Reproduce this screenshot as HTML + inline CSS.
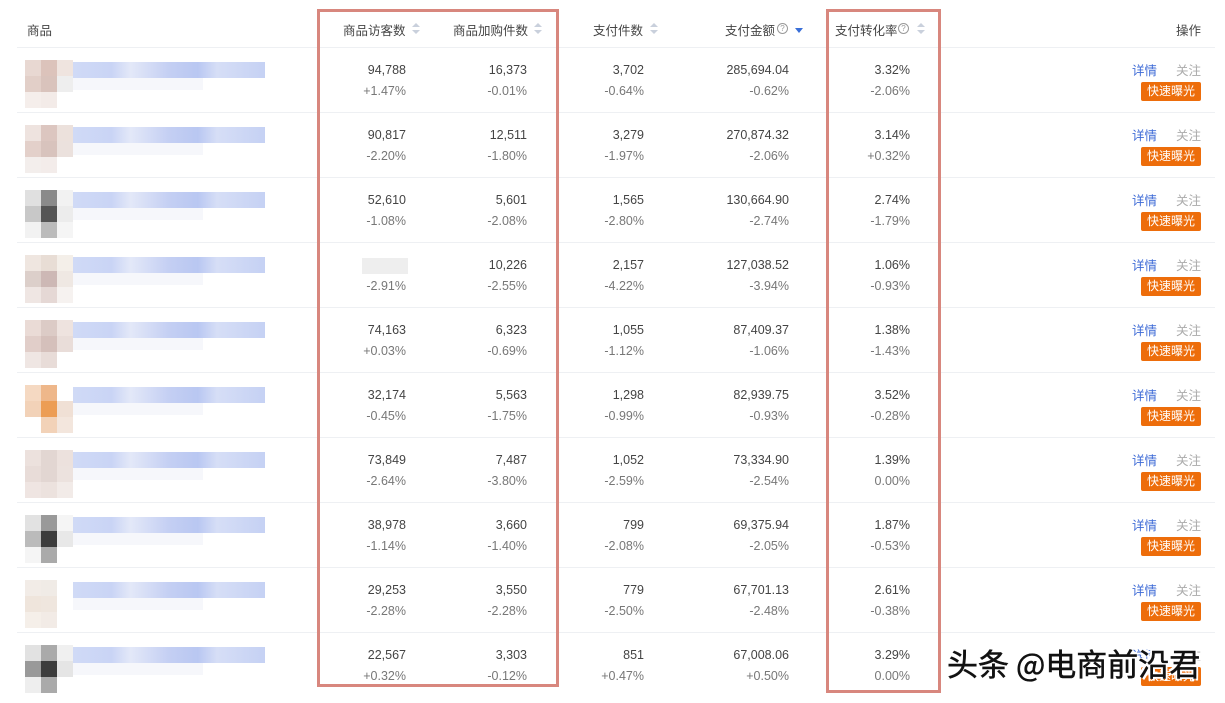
<!DOCTYPE html>
<html><head><meta charset="utf-8"><style>
*{margin:0;padding:0;box-sizing:border-box}
body{width:1225px;height:703px;background:#fff;position:relative;overflow:hidden;font-family:"Liberation Sans","Noto Sans CJK SC",sans-serif;font-size:12.5px;color:#444}
.a{position:absolute;white-space:nowrap}
.r{text-align:right}
.sep{position:absolute;left:17px;width:1198px;height:1px;background:#eef0f3}
.v{color:#444}.p{color:#777}
.box{position:absolute;border:3px solid #d8877e}
.btn{position:absolute;background:#ed6d0b;color:#fff;font-size:12px;width:60px;height:19px;line-height:19px;text-align:center;border-radius:2px}
.sort{position:absolute;width:8px;height:12px}
.sort:before{content:"";position:absolute;left:0;top:0;border:4px solid transparent;border-bottom:4px solid #c9d0dc;border-top:0}
.sort:after{content:"";position:absolute;left:0;top:7px;border:4px solid transparent;border-top:4px solid #c9d0dc;border-bottom:0}
.q{position:absolute;width:11px;height:11px;border:1px solid #999;border-radius:50%;font-size:8px;line-height:9px;text-align:center;color:#999}
.cell{position:absolute;width:16px;height:16px}
.wm{position:absolute;left:947px;top:640px;font-size:31px;color:#111;font-family:"Noto Sans CJK SC",sans-serif;-webkit-text-stroke:0.5px #111;text-shadow:2px 2px 0 #fff,-2px -2px 0 #fff,2px -2px 0 #fff,-2px 2px 0 #fff}
</style></head><body>
<div class="a" style="left:27px;top:20px">商品</div>
<div class="a" style="left:343px;top:20px">商品访客数</div><div class="sort" style="left:412px;top:23px"></div>
<div class="a" style="left:453px;top:20px">商品加购件数</div><div class="sort" style="left:534px;top:23px"></div>
<div class="a" style="left:593px;top:20px">支付件数</div><div class="sort" style="left:650px;top:23px"></div>
<div class="a" style="left:725px;top:20px">支付金额</div><div class="q" style="left:777px;top:23px">?</div>
<div class="a" style="left:795px;top:28px;border:4px solid transparent;border-top:5px solid #3a6fd8;border-bottom:0"></div>
<div class="a" style="left:835px;top:20px">支付转化率</div><div class="q" style="left:898px;top:23px">?</div><div class="sort" style="left:917px;top:23px"></div>
<div class="a" style="left:1176px;top:20px">操作</div>
<div id="rows"></div>
<div class="box" style="left:317px;top:9px;width:242px;height:678px"></div>
<div class="box" style="left:826px;top:9px;width:115px;height:684px"></div>
<div class="wm">头条 @电商前沿君</div>
<script>
var d=[["94,788","+1.47%","16,373","-0.01%","3,702","-0.64%","285,694.04","-0.62%","3.32%","-2.06%"],
["90,817","-2.20%","12,511","-1.80%","3,279","-1.97%","270,874.32","-2.06%","3.14%","+0.32%"],
["52,610","-1.08%","5,601","-2.08%","1,565","-2.80%","130,664.90","-2.74%","2.74%","-1.79%"],
["","-2.91%","10,226","-2.55%","2,157","-4.22%","127,038.52","-3.94%","1.06%","-0.93%"],
["74,163","+0.03%","6,323","-0.69%","1,055","-1.12%","87,409.37","-1.06%","1.38%","-1.43%"],
["32,174","-0.45%","5,563","-1.75%","1,298","-0.99%","82,939.75","-0.93%","3.52%","-0.28%"],
["73,849","-2.64%","7,487","-3.80%","1,052","-2.59%","73,334.90","-2.54%","1.39%","0.00%"],
["38,978","-1.14%","3,660","-1.40%","799","-2.08%","69,375.94","-2.05%","1.87%","-0.53%"],
["29,253","-2.28%","3,550","-2.28%","779","-2.50%","67,701.13","-2.48%","2.61%","-0.38%"],
["22,567","+0.32%","3,303","-0.12%","851","+0.47%","67,008.06","+0.50%","3.29%","0.00%"]];
var th=[["#e8d8d2","#dcc3bb","#efe4df","#e2cfc8","#d9c3bc","#eee","#f5eeeb","#f3ebe8","#fff"],
["#eee3df","#dcc6c0","#ece1dc","#e3d0ca","#d8c3bd","#ebe1dd","#f3eeec","#f3ecea","#fff"],
["#e0e0e0","#8a8a8a","#f2f2f2","#c8c8c8","#555","#ececec","#f2f2f2","#bbb","#f5f5f5"],
["#efe6e0","#e8ddd5","#f4efe9","#dccfca","#cdb8b5","#efe8e3","#efe6e3","#e5d8d5","#f6f2f0"],
["#eadbd6","#dccbc6","#eee3df","#e1cec9","#d5c0bb","#e9ddd9","#efe6e3","#e8dcd8","#fff"],
["#f5d9c2","#eeb78a","#fff","#f2d2b8","#ec9d55","#f0e0d5","#fff","#f2d2b8","#f3e6dd"],
["#ece1dd","#e2d6d2","#ece1dd","#e8dcd8","#e2d6d2","#ece2de","#efe5e2","#ece2de","#f2ebe8"],
["#e2e2e2","#999","#f5f5f5","#bbb","#3c3c3c","#e8e8e8","#f5f5f5","#aaa","#fff"],
["#f2ece7","#f0ebe6","#fff","#efe5dc","#efe6de","#fff","#f5efe9","#f2ebe6","#fff"],
["#e2e2e2","#aaa","#f0f0f0","#999","#3c3c3c","#e5e5e5","#eee","#aaa","#fff"]];
var cols=[406,527,644,789,910],h="";
for(var i=0;i<10;i++){var t=47+65*i;
h+='<div class="sep" style="top:'+t+'px"></div>';
for(var k=0;k<9;k++)h+='<div class="cell" style="left:'+(25+16*(k%3))+'px;top:'+(t+13+16*Math.floor(k/3))+'px;background:'+th[i][k]+'"></div>';
h+='<div class="a" style="left:73px;top:'+(t+15)+'px;width:192px;height:16px;background:linear-gradient(90deg,#d0daf6,#c9d4f5 20%,#e3e8f8 30%,#c4cff3 50%,#b9c7f2 65%,#d6def6 75%,#c5d1f4)"></div>';
h+='<div class="a" style="left:73px;top:'+(t+31)+'px;width:130px;height:12px;background:#f6f7fb"></div>';
for(var c=0;c<5;c++){var x=cols[c];
h+='<div class="a r v" style="left:'+(x-120)+'px;width:120px;top:'+(t+16)+'px">'+d[i][2*c]+'</div>';
h+='<div class="a r p" style="left:'+(x-120)+'px;width:120px;top:'+(t+37)+'px">'+d[i][2*c+1]+'</div>';}
if(i==3)h+='<div class="a" style="left:362px;top:'+(t+16)+'px;width:46px;height:16px;background:#eee"></div>';
h+='<div class="a" style="left:1132px;top:'+(t+13)+'px;color:#3d6ad6">详情</div>';
h+='<div class="a" style="left:1176px;top:'+(t+13)+'px;color:#aaa">关注</div>';
h+='<div class="btn" style="left:1141px;top:'+(t+35)+'px">快速曝光</div>';}
document.getElementById("rows").innerHTML=h;
</script>
</body></html>
